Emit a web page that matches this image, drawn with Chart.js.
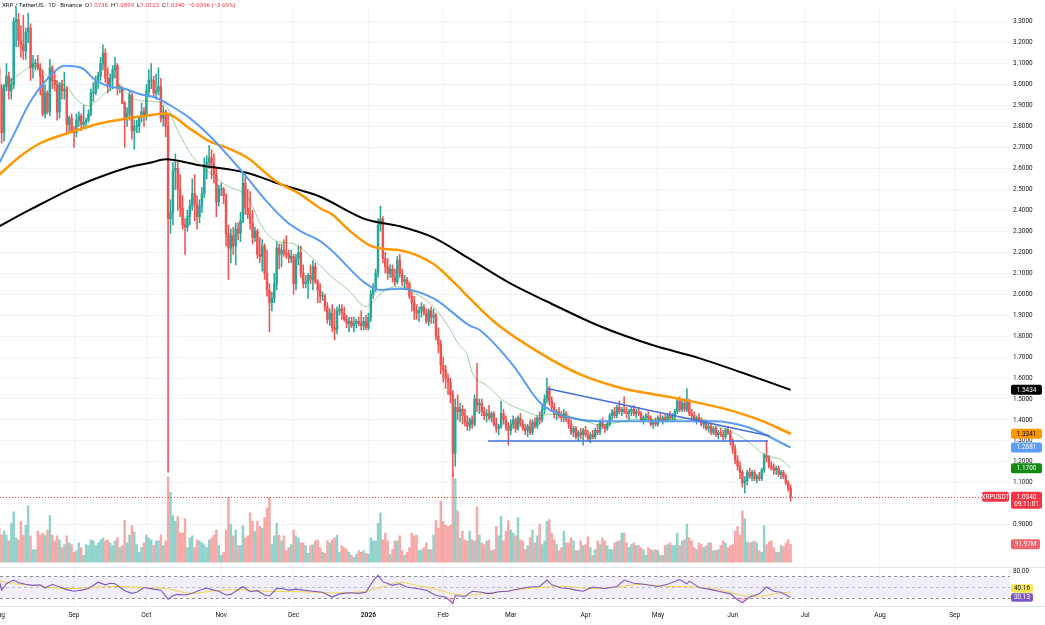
<!DOCTYPE html>
<html><head><meta charset="utf-8">
<script src="https://cdn.jsdelivr.net/npm/chart.js@4.4.1/dist/chart.umd.min.js"></script>
<style>
html,body{margin:0;padding:0;background:#fff;}
#wrap{position:relative;width:1045px;height:625px;overflow:hidden;background:#fff;}
canvas{position:absolute;left:0;top:0;}
#hdr{position:absolute;left:2px;top:1px;font:6.1px Roboto,'Liberation Sans',sans-serif;color:#131722;white-space:nowrap;letter-spacing:0;}
#hdr .v{color:#f23645;}
#hdr .g{margin-left:3px;}
</style></head><body>
<div id="wrap"><canvas id="c" width="1045" height="625"></canvas>
<div id="hdr">XRP / TetherUS · 1D · Binance<span class="g">O</span><span class="v">1.0736</span><span class="g">H</span><span class="v">1.0899</span><span class="g">L</span><span class="v">1.0122</span><span class="g">C</span><span class="v">1.0340</span><span class="g v">−0.0396 (−3.69%)</span></div>
</div>
<script>
// ---------- DATA ----------
// x values are day numbers counted from 2025-08-01 (day 0)
const monthTickDays   = [0, 31, 61, 92, 122, 153, 184, 212, 243, 273, 304, 334, 365, 396];
const monthTickLabels = ['Aug','Sep','Oct','Nov','Dec','2026','Feb','Mar','Apr','May','Jun','Jul','Aug','Sep'];
const priceTicks = [0.9,1.0,1.1,1.2,1.3,1.4,1.5,1.6,1.7,1.8,1.9,2.0,2.1,2.2,2.3,2.4,2.5,2.6,2.7,2.8,2.9,3.0,3.1,3.2,3.3];

// daily candles [open, high, low, close], one per day from day 0
const candles = [
[3.08,3.09,2.93,2.98],[2.98,3.00,2.72,2.77],[2.77,3.00,2.73,2.99],[2.99,3.10,2.97,3.04],[3.04,3.06,2.93,2.97],
[2.97,3.03,2.93,3.00],[3.00,3.32,2.98,3.30],[3.30,3.38,3.18,3.31],[3.31,3.34,3.18,3.21],[3.21,3.28,3.13,3.19],
[3.19,3.33,3.12,3.16],[3.16,3.27,3.12,3.25],[3.25,3.34,3.20,3.27],[3.27,3.29,3.02,3.08],[3.08,3.14,3.03,3.10],
[3.10,3.12,3.07,3.10],[3.10,3.14,3.07,3.08],[3.08,3.10,2.95,3.04],[3.04,3.07,2.85,2.86],[2.86,3.00,2.84,2.96],
[2.96,2.97,2.86,2.87],[2.87,3.12,2.85,3.08],[3.08,3.09,2.98,3.02],[3.02,3.06,2.97,3.00],[3.00,3.02,2.83,2.87],
[2.87,3.01,2.84,3.00],[3.00,3.02,2.93,2.97],[2.97,3.06,2.93,2.98],[2.98,2.99,2.77,2.81],[2.81,2.85,2.77,2.84],
[2.84,2.86,2.77,2.78],[2.78,2.80,2.70,2.77],[2.77,2.86,2.75,2.83],[2.83,2.87,2.80,2.85],[2.85,2.86,2.78,2.81],
[2.81,2.90,2.79,2.82],[2.82,2.84,2.79,2.83],[2.83,2.88,2.82,2.86],[2.86,2.98,2.85,2.96],[2.96,3.01,2.92,2.96],
[2.96,3.04,2.95,3.02],[3.02,3.06,2.98,3.04],[3.04,3.13,3.02,3.10],[3.10,3.19,3.07,3.15],[3.15,3.17,3.01,3.03],
[3.03,3.08,2.96,2.99],[2.99,3.05,2.97,3.03],[3.03,3.09,2.98,3.07],[3.07,3.13,3.03,3.09],[3.09,3.10,2.95,2.98],
[2.98,3.00,2.96,2.98],[2.98,2.99,2.91,2.91],[2.91,2.92,2.70,2.84],[2.84,2.89,2.80,2.86],[2.86,2.97,2.83,2.95],
[2.95,2.96,2.74,2.78],[2.78,2.83,2.69,2.80],[2.80,2.83,2.77,2.80],[2.80,2.85,2.77,2.85],[2.85,2.91,2.82,2.87],
[2.87,2.89,2.80,2.85],[2.85,3.00,2.83,2.97],[2.97,3.07,2.94,3.02],[3.02,3.10,2.98,3.02],[3.02,3.04,2.94,2.96],
[2.96,3.05,2.93,2.97],[2.97,3.08,2.95,2.99],[2.99,3.03,2.82,2.84],[2.84,2.90,2.80,2.87],[2.87,2.88,2.75,2.80],
[2.80,2.86,1.15,2.36],[2.36,2.45,2.29,2.39],[2.39,2.63,2.33,2.59],[2.59,2.67,2.50,2.60],[2.60,2.63,2.40,2.50],
[2.50,2.57,2.37,2.41],[2.41,2.47,2.31,2.33],[2.33,2.36,2.19,2.32],[2.32,2.40,2.30,2.37],[2.37,2.45,2.33,2.42],
[2.42,2.55,2.40,2.48],[2.48,2.57,2.35,2.43],[2.43,2.47,2.31,2.37],[2.37,2.45,2.34,2.42],[2.42,2.51,2.39,2.48],
[2.48,2.65,2.46,2.62],[2.62,2.66,2.55,2.63],[2.63,2.71,2.60,2.65],[2.65,2.69,2.55,2.62],[2.62,2.67,2.53,2.57],
[2.57,2.60,2.37,2.44],[2.44,2.52,2.42,2.50],[2.50,2.53,2.47,2.50],[2.50,2.51,2.43,2.47],[2.47,2.48,2.23,2.29],
[2.29,2.33,2.07,2.22],[2.22,2.31,2.15,2.28],[2.28,2.32,2.19,2.23],[2.23,2.34,2.14,2.31],[2.31,2.34,2.26,2.29],
[2.29,2.39,2.25,2.35],[2.35,2.58,2.34,2.53],[2.53,2.56,2.38,2.41],[2.41,2.50,2.36,2.38],[2.38,2.49,2.31,2.34],
[2.34,2.40,2.24,2.27],[2.27,2.32,2.25,2.30],[2.30,2.31,2.17,2.19],[2.19,2.27,2.15,2.18],[2.18,2.26,2.11,2.23],
[2.23,2.24,2.07,2.10],[2.10,2.21,1.99,2.02],[2.02,2.05,1.82,1.96],[1.96,2.01,1.92,1.98],[1.98,2.10,1.96,2.05],
[2.05,2.25,2.02,2.22],[2.22,2.24,2.12,2.19],[2.19,2.24,2.13,2.21],[2.21,2.26,2.18,2.20],[2.20,2.28,2.17,2.19],
[2.19,2.21,2.15,2.17],[2.17,2.21,2.15,2.18],[2.18,2.19,2.00,2.05],[2.05,2.19,2.02,2.17],[2.17,2.23,2.14,2.20],
[2.20,2.23,2.08,2.10],[2.10,2.14,2.03,2.05],[2.05,2.09,2.03,2.06],[2.06,2.10,1.98,2.09],[2.09,2.14,2.05,2.07],
[2.07,2.16,2.02,2.13],[2.13,2.15,2.05,2.06],[2.06,2.07,1.96,2.02],[2.02,2.05,1.96,1.99],[1.99,2.01,1.97,1.99],
[1.99,2.00,1.92,1.94],[1.94,1.96,1.86,1.88],[1.88,1.93,1.85,1.91],[1.91,1.95,1.82,1.84],[1.84,1.93,1.78,1.83],
[1.83,1.94,1.81,1.92],[1.92,1.95,1.90,1.93],[1.93,1.95,1.88,1.91],[1.91,1.94,1.87,1.88],[1.88,1.90,1.84,1.86],
[1.86,1.89,1.82,1.87],[1.87,1.89,1.84,1.85],[1.85,1.89,1.82,1.86],[1.86,1.88,1.84,1.87],[1.87,1.89,1.85,1.86],
[1.86,1.92,1.83,1.85],[1.85,1.89,1.83,1.87],[1.87,1.90,1.83,1.84],[1.84,1.91,1.83,1.89],[1.89,2.02,1.87,2.00],
[2.00,2.05,1.98,2.03],[2.03,2.12,2.01,2.10],[2.10,2.36,2.08,2.33],[2.33,2.42,2.30,2.36],[2.36,2.37,2.15,2.17],
[2.17,2.20,2.10,2.13],[2.13,2.17,2.07,2.10],[2.10,2.14,2.08,2.12],[2.12,2.14,2.06,2.08],[2.08,2.12,2.04,2.06],
[2.06,2.18,2.05,2.16],[2.16,2.19,2.08,2.10],[2.10,2.12,2.04,2.06],[2.06,2.09,2.03,2.07],[2.07,2.08,2.03,2.05],
[2.05,2.06,1.98,1.99],[1.99,2.01,1.92,1.96],[1.96,1.99,1.88,1.92],[1.92,1.95,1.88,1.91],[1.91,1.94,1.87,1.92],
[1.92,1.96,1.89,1.94],[1.94,1.95,1.90,1.91],[1.91,1.93,1.86,1.87],[1.87,1.93,1.85,1.92],[1.92,1.94,1.86,1.89],
[1.89,1.93,1.86,1.90],[1.90,1.91,1.78,1.80],[1.80,1.84,1.72,1.76],[1.76,1.78,1.62,1.66],[1.66,1.70,1.58,1.64],
[1.64,1.66,1.55,1.60],[1.60,1.62,1.52,1.58],[1.58,1.60,1.48,1.52],[1.52,1.54,1.13,1.24],[1.24,1.50,1.18,1.46],
[1.46,1.52,1.40,1.44],[1.44,1.48,1.39,1.45],[1.45,1.47,1.38,1.42],[1.42,1.45,1.37,1.39],[1.39,1.42,1.35,1.37],
[1.37,1.41,1.35,1.40],[1.40,1.42,1.36,1.38],[1.38,1.52,1.37,1.50],[1.50,1.67,1.44,1.47],[1.47,1.50,1.43,1.48],
[1.48,1.50,1.42,1.44],[1.44,1.46,1.40,1.42],[1.42,1.45,1.39,1.43],[1.43,1.47,1.40,1.41],[1.41,1.44,1.39,1.43],
[1.43,1.44,1.37,1.38],[1.38,1.41,1.34,1.36],[1.36,1.38,1.33,1.37],[1.37,1.49,1.36,1.43],[1.43,1.45,1.38,1.40],
[1.40,1.42,1.35,1.37],[1.37,1.39,1.28,1.35],[1.35,1.40,1.33,1.38],[1.38,1.42,1.36,1.40],[1.40,1.41,1.34,1.36],
[1.36,1.42,1.35,1.41],[1.41,1.43,1.37,1.38],[1.38,1.40,1.35,1.36],[1.36,1.38,1.33,1.35],[1.35,1.38,1.32,1.37],
[1.37,1.40,1.33,1.34],[1.34,1.40,1.33,1.39],[1.39,1.41,1.36,1.37],[1.37,1.42,1.36,1.41],[1.41,1.44,1.38,1.40],
[1.40,1.47,1.39,1.45],[1.45,1.52,1.43,1.50],[1.50,1.60,1.48,1.54],[1.54,1.56,1.47,1.49],[1.49,1.51,1.44,1.46],
[1.46,1.48,1.41,1.43],[1.43,1.45,1.40,1.44],[1.44,1.46,1.41,1.42],[1.42,1.44,1.39,1.41],[1.41,1.45,1.39,1.43],
[1.43,1.44,1.39,1.40],[1.40,1.42,1.36,1.38],[1.38,1.40,1.33,1.34],[1.34,1.37,1.32,1.36],[1.36,1.37,1.31,1.32],
[1.32,1.35,1.30,1.34],[1.34,1.36,1.31,1.33],[1.33,1.36,1.28,1.35],[1.35,1.37,1.32,1.33],[1.33,1.35,1.30,1.31],
[1.31,1.34,1.29,1.33],[1.33,1.35,1.31,1.32],[1.32,1.36,1.31,1.35],[1.35,1.38,1.33,1.34],[1.34,1.40,1.33,1.39],
[1.39,1.41,1.36,1.37],[1.37,1.38,1.34,1.36],[1.36,1.39,1.35,1.38],[1.38,1.43,1.37,1.42],[1.42,1.45,1.40,1.44],
[1.44,1.46,1.41,1.42],[1.42,1.47,1.41,1.46],[1.46,1.49,1.43,1.44],[1.44,1.46,1.42,1.45],[1.45,1.51,1.43,1.44],
[1.44,1.46,1.41,1.43],[1.43,1.45,1.40,1.44],[1.44,1.46,1.42,1.45],[1.45,1.47,1.42,1.43],[1.43,1.45,1.41,1.44],
[1.44,1.46,1.42,1.43],[1.43,1.44,1.39,1.40],[1.40,1.42,1.38,1.41],[1.41,1.43,1.40,1.42],[1.42,1.44,1.40,1.41],
[1.41,1.42,1.37,1.38],[1.38,1.40,1.36,1.39],[1.39,1.41,1.37,1.38],[1.38,1.42,1.37,1.41],[1.41,1.43,1.39,1.40],
[1.40,1.42,1.38,1.41],[1.41,1.43,1.39,1.40],[1.40,1.43,1.39,1.42],[1.42,1.44,1.40,1.41],[1.41,1.43,1.39,1.42],
[1.42,1.45,1.40,1.44],[1.44,1.50,1.43,1.49],[1.49,1.51,1.44,1.45],[1.45,1.50,1.44,1.48],[1.48,1.50,1.44,1.45],
[1.45,1.55,1.44,1.49],[1.49,1.50,1.42,1.43],[1.43,1.45,1.40,1.42],[1.42,1.44,1.39,1.40],[1.40,1.42,1.38,1.41],
[1.41,1.43,1.39,1.40],[1.40,1.41,1.37,1.38],[1.38,1.40,1.36,1.39],[1.39,1.40,1.35,1.36],[1.36,1.38,1.34,1.37],
[1.37,1.38,1.33,1.34],[1.34,1.37,1.33,1.36],[1.36,1.37,1.32,1.33],[1.33,1.35,1.31,1.34],[1.34,1.36,1.32,1.33],
[1.33,1.35,1.30,1.32],[1.32,1.36,1.31,1.35],[1.35,1.37,1.33,1.34],[1.34,1.35,1.28,1.30],[1.30,1.31,1.24,1.26],
[1.26,1.28,1.19,1.21],[1.21,1.23,1.16,1.18],[1.18,1.20,1.12,1.15],[1.15,1.16,1.08,1.10],[1.10,1.13,1.05,1.11],
[1.11,1.16,1.09,1.15],[1.15,1.17,1.12,1.13],[1.13,1.16,1.11,1.15],[1.15,1.16,1.11,1.12],[1.12,1.14,1.10,1.13],
[1.13,1.15,1.11,1.12],[1.12,1.17,1.11,1.16],[1.16,1.24,1.15,1.23],[1.23,1.30,1.20,1.22],[1.22,1.23,1.17,1.18],
[1.18,1.20,1.16,1.17],[1.17,1.19,1.14,1.16],[1.16,1.18,1.14,1.17],[1.17,1.18,1.13,1.14],[1.14,1.16,1.12,1.15],
[1.15,1.16,1.12,1.13],[1.13,1.14,1.09,1.10],[1.10,1.11,1.06,1.0736],[1.0736,1.0899,1.0122,1.0340]
];

// daily volume, millions
const volumes = [
175,140,160,140,110,200,260,125,115,210, 140,190,290,135,65,65,160,140,150,140,
165,240,140,110,135,115,75,90,135,100, 90,50,60,100,75,35,90,85,115,110,
85,100,115,125,110,115,100,85,110,125, 75,85,215,100,140,190,155,90,50,75,
100,140,125,115,85,110,110,140,85,110, 440,360,240,210,235,150,150,225,75,125,
135,75,115,110,100,90,75,115,125,140, 165,85,35,50,165,335,195,135,165,85,
85,190,125,135,255,210,160,210,185,175, 230,280,335,90,135,200,140,110,135,60,
75,90,165,135,125,100,100,85,45,85, 90,110,115,75,50,45,110,100,115,125,
140,50,85,75,65,50,35,25,40,60, 50,60,45,40,125,110,110,200,255,115,
150,110,40,65,110,110,135,60,35,50, 75,150,135,140,60,65,75,100,65,65,
140,215,175,315,210,190,185,190,460,430, 265,125,160,115,110,160,115,110,285,140,
100,90,110,115,60,65,185,135,235,110, 160,215,165,150,135,230,115,110,65,85,
125,165,100,135,195,90,110,210,220,150, 115,90,60,75,160,100,100,125,110,60,
60,110,85,90,130,75,35,65,110,90, 125,110,85,65,65,100,105,110,150,150,
100,75,90,100,85,85,75,65,35,75, 65,60,65,60,35,35,85,90,100,85,
85,150,85,110,115,195,125,110,75,65, 100,90,75,85,100,100,60,60,65,85,
110,100,75,85,90,160,185,140,265,225, 105,100,105,110,100,60,50,190,90,105,
110,75,50,50,85,80,100,115,91.97
];

// moving averages: [day, value]
const ma20 = [[0,2.98],[9,3.055],[12,3.08],[14,3.09],[16,3.085],[20,3.04],[24,3.01],[28,2.99],[32,2.93],[37,2.90],[44,2.96],[49,2.99],[56,2.93],[63,2.92],[69,2.90],[73,2.805],[75,2.757],[80,2.66],[86,2.59],[94,2.52],[103,2.46],[109,2.32],[115,2.253],[122,2.24],[130,2.17],[138,2.08],[145,2.017],[152,1.94],[157,1.99],[161,2.026],[166,2.035],[173,2.0],[180,1.94],[187,1.83],[190,1.767],[194,1.71],[196,1.625],[202,1.565],[210,1.484],[217,1.446],[224,1.42],[228,1.427],[235,1.42],[244,1.39],[249,1.375],[257,1.39],[264,1.404],[273,1.40],[282,1.404],[288,1.41],[293,1.39],[302,1.352],[310,1.30],[317,1.234],[324,1.21],[328,1.17]];
const ma50 = [[0,2.625],[6,2.76],[13,2.92],[21,3.04],[27,3.09],[34,3.08],[40,3.02],[46,2.99],[52,2.98],[58,2.955],[65,2.937],[71,2.90],[79,2.84],[87,2.758],[101,2.58],[111,2.44],[119,2.347],[125,2.30],[133,2.253],[138,2.206],[152,2.05],[158,2.02],[166,2.026],[180,1.98],[195,1.85],[199,1.83],[213,1.66],[224,1.484],[234,1.42],[249,1.394],[268,1.394],[296,1.394],[310,1.366],[328,1.2681]];
const ma100 = [[0,2.57],[9,2.66],[17,2.72],[29,2.77],[42,2.815],[54,2.84],[63,2.855],[69,2.862],[79,2.79],[87,2.73],[94,2.70],[103,2.65],[114,2.545],[125,2.475],[133,2.41],[138,2.38],[145,2.305],[154,2.23],[160,2.215],[166,2.21],[180,2.144],[189,2.05],[195,1.98],[206,1.86],[224,1.72],[241,1.616],[257,1.555],[282,1.50],[300,1.455],[315,1.40],[328,1.3341]];
const ma200 = [[0,2.324],[13,2.404],[29,2.498],[42,2.56],[54,2.607],[63,2.628],[69,2.644],[83,2.615],[103,2.578],[115,2.53],[125,2.495],[133,2.465],[152,2.357],[166,2.324],[180,2.27],[195,2.168],[212,2.05],[227,1.965],[249,1.847],[270,1.76],[290,1.695],[308,1.625],[328,1.5434]];

// drawn trend lines [day, price]
const trendUpper = [[227,1.55],[319.4,1.3236]];
const trendSupport = [[202.6,1.2995],[318.6,1.2995]];

// RSI(14) and its moving average: [day, value]
const rsi = [[0,62],[1,44],[3,56],[6,63],[8,58],[11,55],[14,53],[17,54],[19,48],[22,55],[25,50],[28,45],[31,42],[34,44],[37,47],[41,59],[44,54],[46,57],[48,56],[52,43],[55,38],[57,40],[60,49],[64,46],[67,44],[70,27],[72,34],[74,36],[77,35],[80,38],[83,44],[86,48],[88,45],[91,42],[94,35],[96,36],[101,51],[104,41],[107,43],[110,35],[112,33],[115,47],[117,47],[120,44],[123,46],[126,44],[130,42],[134,40],[138,31],[141,37],[145,39],[149,38],[152,40],[155,62],[157,72],[159,60],[163,53],[166,56],[169,50],[173,47],[177,44],[181,34],[185,31],[188,19],[189,34],[193,32],[196,42],[200,40],[202,38],[204,38],[207,41],[211,42],[216,47],[220,50],[224,51],[227,63],[229,54],[233,48],[236,47],[239,44],[242,42],[246,50],[251,47],[256,51],[259,63],[263,57],[267,55],[273,51],[277,55],[282,64],[285,56],[286,61],[290,49],[295,45],[299,41],[303,37],[306,26],[308,20],[311,31],[315,37],[318,50],[321,42],[324,40],[328,30.13]];
const rsiMA = [[0,62],[6,56],[14,53],[28,47],[42,50],[49,51],[58,49],[69,47],[80,38],[86,41],[97,45],[111,42],[125,41],[138,39],[152,42],[159,50],[166,59],[173,53],[180,47],[187,38],[194,34],[200,37],[213,44],[224,49],[234,51],[245,47],[255,49],[266,55],[277,51],[288,50],[299,44],[310,33],[315,32.5],[324,39],[328,40.16]];

const symbolName = 'XRPUSDT';
const barCountdown = '09:11:01';
const volumeLabel = '91.97M';

// ---------- CHART ----------
Chart.defaults.font.family = "Roboto, 'Liberation Sans', sans-serif";
const UP = '#26a69a', DN = '#ef5350';
const isUp = k => k[3] >= k[0];
const pts = arr => arr.map(p => ({x: p[0], y: p[1]}));
const lastClose = candles[candles.length - 1][3];
const RSI_PANE_TOP = 86.5;

function hline(ctx, x0, x1, y) { ctx.beginPath(); ctx.moveTo(x0, y); ctx.lineTo(x1, y); ctx.stroke(); }
function tag(ctx, x, yc, w, lines, bg, fg, hOne) {
  const h1 = hOne || 10;
  const h = lines.length === 1 ? h1 : 17;
  const y = yc - h1 / 2;
  ctx.fillStyle = bg;
  ctx.beginPath();
  if (ctx.roundRect) ctx.roundRect(x, y, w, h, 2); else ctx.rect(x, y, w, h);
  ctx.fill();
  ctx.fillStyle = fg;
  ctx.font = "6.4px Roboto, 'Liberation Sans', sans-serif";
  ctx.textAlign = 'center'; ctx.textBaseline = 'middle';
  lines.forEach((t, i) => ctx.fillText(t, x + w / 2, yc + 0.3 + i * 7));
}

const overlay = {
  id: 'overlay',
  beforeDatasetsDraw(chart) {
    const {ctx, chartArea: a, scales: {yr}} = chart;
    ctx.save();
    const y70 = yr.getPixelForValue(70), y30 = yr.getPixelForValue(30), y50 = yr.getPixelForValue(50);
    ctx.fillStyle = 'rgba(126,87,194,0.10)';
    ctx.fillRect(a.left, y70, a.right - a.left, y30 - y70);
    ctx.lineWidth = 1;
    ctx.strokeStyle = 'rgba(120,123,134,0.85)';
    ctx.setLineDash([3, 3]);
    hline(ctx, a.left, a.right, Math.round(y70) + 0.5);
    hline(ctx, a.left, a.right, Math.round(y30) + 0.5);
    ctx.strokeStyle = 'rgba(120,123,134,0.45)';
    hline(ctx, a.left, a.right, Math.round(y50) + 0.5);
    ctx.setLineDash([]);
    ctx.strokeStyle = '#e0e3eb';
    hline(ctx, 0, chart.width, Math.round(yr.getPixelForValue(RSI_PANE_TOP)) - 0.5);
    hline(ctx, 0, chart.width, Math.round(a.bottom) + 0.5);
    ctx.restore();
  },
  afterDatasetsDraw(chart) {
    const {ctx, chartArea: a, scales: {y}} = chart;
    ctx.save();
    ctx.strokeStyle = '#f23645'; ctx.lineWidth = 1; ctx.setLineDash([1, 2]);
    hline(ctx, a.left, a.right, Math.round(y.getPixelForValue(lastClose)) + 0.5);
    ctx.restore();
  },
  afterDraw(chart) {
    const {ctx, chartArea: a, scales: {y, yv, yr}} = chart;
    ctx.save();
    const x = a.right + 1, w = 31;
    const last = arr => arr[arr.length - 1][1];
    tag(ctx, x, y.getPixelForValue(last(ma200)), w, [last(ma200).toFixed(4)], '#000000', '#ffffff');
    tag(ctx, x, y.getPixelForValue(last(ma100)), w, [last(ma100).toFixed(4)], '#ff9800', '#000000');
    tag(ctx, x, y.getPixelForValue(last(ma50)), w, [last(ma50).toFixed(4)], '#5b9cf6', '#ffffff');
    tag(ctx, x, y.getPixelForValue(last(ma20)), w, [last(ma20).toFixed(4)], '#138a13', '#ffffff');
    const yc = y.getPixelForValue(lastClose);
    tag(ctx, x, yc, w, [lastClose.toFixed(4), barCountdown], '#f23645', '#ffffff');
    tag(ctx, a.right - 28, yc, 27, [symbolName], '#f23645', '#ffffff');
    tag(ctx, x, yv.getPixelForValue(volumes[volumes.length-1]), 29, [volumeLabel], '#f0646c', '#ffffff');
    // RSI scale label and tags (labels pushed apart when they would overlap)
    ctx.fillStyle = '#131722';
    ctx.font = "6.4px Roboto, 'Liberation Sans', sans-serif";
    ctx.textAlign = 'left'; ctx.textBaseline = 'middle';
    ctx.fillText('80.00', a.right + 3, yr.getPixelForValue(80));
    const yRsi = yr.getPixelForValue(last(rsi));
    const yRsiMA = Math.min(yr.getPixelForValue(last(rsiMA)), yRsi - 9);
    tag(ctx, x, yRsiMA, 22, [last(rsiMA).toFixed(2)], '#f5e44f', '#131722', 8.5);
    tag(ctx, x, yRsi, 22, [last(rsi).toFixed(2)], '#7e57c2', '#ffffff', 8.5);
    ctx.restore();
  }
};

const lineDS = (data, color, width, axis) => ({
  type: 'line', data: pts(data), borderColor: color, borderWidth: width,
  pointRadius: 0, cubicInterpolationMode: 'monotone', yAxisID: axis || 'y', xAxisID: 'x', fill: false
});

new Chart(document.getElementById('c'), {
  type: 'bar',
  data: {
    datasets: [
      lineDS(trendUpper, '#4470dd', 1.4),
      lineDS(trendSupport, '#4470dd', 1.4),
      lineDS(ma20, 'rgba(40,150,40,0.45)', 1),
      lineDS(ma50, '#5b9cf6', 2),
      lineDS(ma100, '#ff9800', 2.5),
      lineDS(ma200, '#000000', 2),
      Object.assign(lineDS(rsi, '#7e57c2', 1.1, 'yr'), {cubicInterpolationMode: 'default', tension: 0,
        fill: {target: {value: 30}, above: 'rgba(0,0,0,0)', below: 'rgba(242,54,69,0.25)'}}),
      lineDS(rsiMA, '#f2d54b', 1, 'yr'),
      { type: 'bar', data: candles.map((k, i) => ({x: i, y: [k[0], k[3]]})),
        backgroundColor: candles.map(k => isUp(k) ? UP : DN), barThickness: 1.8, minBarLength: 0.8,
        grouped: false, yAxisID: 'y', xAxisID: 'x', borderWidth: 0 },
      { type: 'bar', data: candles.map((k, i) => ({x: i, y: [k[2], k[1]]})),
        backgroundColor: candles.map(k => isUp(k) ? UP : DN), barThickness: 0.9,
        grouped: false, yAxisID: 'y', xAxisID: 'x', borderWidth: 0 },
      { type: 'bar', data: volumes.map((v, i) => ({x: i, y: v})),
        backgroundColor: candles.map(k => isUp(k) ? 'rgba(38,166,154,0.5)' : 'rgba(239,83,80,0.5)'),
        barThickness: 1.8, grouped: false, yAxisID: 'yv', xAxisID: 'x', borderWidth: 0 }
    ]
  },
  options: {
    responsive: false, animation: false, events: [],
    layout: {padding: 0},
    plugins: {legend: {display: false}, tooltip: {enabled: false}},
    scales: {
      x: {
        type: 'linear', position: 'bottom', min: 0.33, max: 418.9, offset: false,
        grid: {color: '#f0f3fa', drawTicks: false, offset: false},
        border: {display: false},
        ticks: {
          padding: 5, color: '#131722', maxRotation: 0, minRotation: 0, autoSkip: false,
          font: ctx => ({size: 6.6, weight: (ctx.tick && ctx.tick.value === 153) ? 'bold' : 'normal'}),
          callback: v => { const i = monthTickDays.indexOf(v); return i >= 0 ? monthTickLabels[i] : ''; }
        },
        afterBuildTicks: s => { s.ticks = monthTickDays.map(v => ({value: v})); },
        afterFit: s => { s.height = 19; s.paddingLeft = 0; s.paddingRight = 0; }
      },
      y: {
        type: 'linear', position: 'right', min: 0.5123, max: 3.3708,
        grid: {color: '#f0f3fa', drawTicks: false},
        border: {display: false},
        ticks: {padding: 3, color: '#131722', font: {size: 6.4}, autoSkip: false, callback: v => Number(v).toFixed(4)},
        afterBuildTicks: s => { s.ticks = priceTicks.map(v => ({value: v})); },
        afterFit: s => { s.width = 35; }
      },
      yv: {type: 'linear', display: false, min: -227, max: 2869},
      yr: {type: 'linear', display: false, min: 14.19, max: 1141.6}
    }
  },
  plugins: [overlay]
});
</script>
</body></html>
